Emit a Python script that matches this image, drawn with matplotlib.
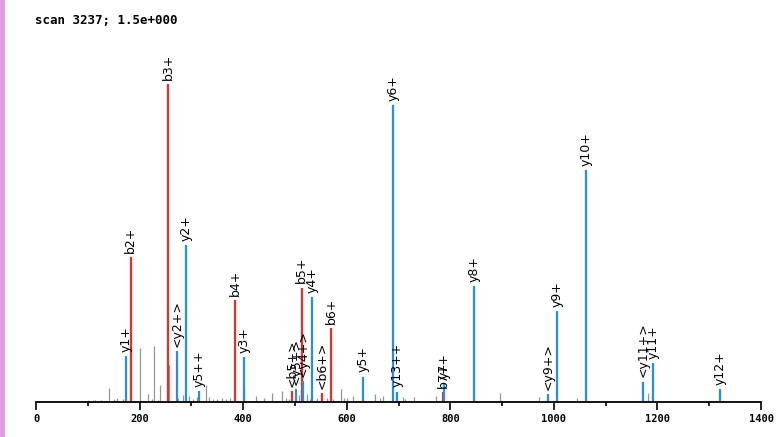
import matplotlib
matplotlib.use("Agg")
import matplotlib.pyplot as plt
from matplotlib.patches import Rectangle

# Annotated fragment peaks
ion_labels = ["y1+", "b2+", "b3+", "<y2+>", "y2+", "y5++", "b4+", "y3+",
              "<b5+>", "<y5+>", "b5+", "<y4+>", "y4+", "<b6+>", "b6+",
              "y5+", "y6+", "y13++", "b7+", "y7+", "y8+", "<y9+>", "y9+",
              "y10+", "<y11+>", "y11+", "y12+"]
ion_mz = [173.8, 182.9, 254.9, 272.3, 290.2, 315.3, 384.8, 402.2,
          494.3, 501.4, 513.0, 516.0, 533.5, 551.6, 569.6,
          631.4, 688.7, 697.0, 785.9, 788.4, 845.7, 988.0, 1006.0,
          1062.0, 1172.0, 1191.0, 1321.0]
ion_int = [14.5, 45.6, 100.0, 16.0, 49.4, 3.5, 32.0, 14.2,
           3.5, 4.1, 36.0, 6.6, 33.0, 2.8, 23.3,
           8.0, 93.4, 3.3, 3.1, 6.0, 36.5, 2.5, 28.7,
           73.0, 6.4, 12.2, 4.0]
ion_type = ["y", "b", "b", "y", "y", "y", "b", "y",
            "b", "y", "b", "y", "y", "b", "b",
            "y", "y", "y", "b", "y", "y", "y", "y",
            "y", "y", "y", "y"]

# Unannotated peaks
other_mz = [101, 110.6, 114.5, 125.5, 141, 150.6, 156.4, 167.4, 200.8, 216, 224,
            227.8, 235, 240.4, 256.2, 274.8, 284.4, 296, 303.7, 310, 328.2, 333.5,
            341.8, 349.5, 359, 366.8, 374.6, 401, 424, 440.8, 456.3, 474.4, 482.7,
            488.5, 507, 522.7, 529, 542, 561.3, 574, 589, 594.7, 601, 612.7, 654.6,
            664, 670.6, 708, 712.5, 730, 771.8, 896.5, 970.6, 1045, 1182]
other_int = [0.6, 0.6, 0.6, 0.6, 4.4, 0.9, 1.3, 0.9, 17.0, 2.5, 0.9,
             17.6, 0.6, 5.3, 11.6, 1.3, 2.2, 1.9, 0.9, 1.6, 5.3, 1.6,
             0.9, 0.9, 1.3, 0.9, 1.3, 4.4, 1.9, 1.3, 2.8, 3.5, 1.3,
             0.9, 2.2, 2.5, 0.9, 1.3, 1.3, 0.9, 4.0, 1.3, 1.3, 1.9, 2.5,
             1.3, 1.9, 1.6, 0.9, 1.6, 1.9, 2.8, 1.6, 1.3, 2.8]

title_text = "scan 3237; 1.5e+000"
xticks = [0, 200, 400, 600, 800, 1000, 1200, 1400]

colors = {"b": "#f02828", "y": "#2090f0"}

fig = plt.figure(figsize=(7.78, 4.37), dpi=100)
fig.patches.append(Rectangle((0, 0), 5 / 778, 1, transform=fig.transFigure,
                             facecolor="#dda0dd", edgecolor="none"))

left = 36 / 778
right = 761 / 778
bottom = (437 - 402) / 437
top_px = 50
ax = fig.add_axes([left, bottom, right - left, (402 - top_px) / 437])
# 100 units -> 318 px
ax.set_ylim(0, 100 * (402 - top_px) / 318)
ax.set_xlim(0, 1400)

ax.vlines(other_mz, 0, other_int, colors="#959595", linewidth=0.9)
for mz, it, tp, lab in zip(ion_mz, ion_int, ion_type, ion_labels):
    ax.vlines(mz, 0, it, colors=colors[tp], linewidth=1.6)
    ax.annotate(lab, (mz, it), xytext=(0, 3), textcoords="offset points",
                rotation=90, ha="center", va="bottom", fontsize=9,
                family="DejaVu Sans", color="black", annotation_clip=False)

for s in ["top", "right", "left"]:
    ax.spines[s].set_visible(False)
ax.spines["bottom"].set_linewidth(1.3)
ax.set_yticks([])
ax.set_xticks(xticks)
ax.set_xticks([100, 300, 500, 700, 900, 1100, 1300], minor=True)
ax.tick_params(axis="x", which="major", direction="out", length=6, width=1.2,
               pad=3, labelsize=7.5)
ax.tick_params(axis="x", which="minor", direction="out", length=3, width=1.2)
for t in ax.get_xticklabels():
    t.set_family("DejaVu Sans Mono")
    t.set_fontweight("bold")

fig.text(35 / 778, 1 - 20 / 437, title_text, family="DejaVu Sans Mono",
         fontweight="bold", fontsize=9, va="center", ha="left")

fig.savefig("out.png", dpi=100)
